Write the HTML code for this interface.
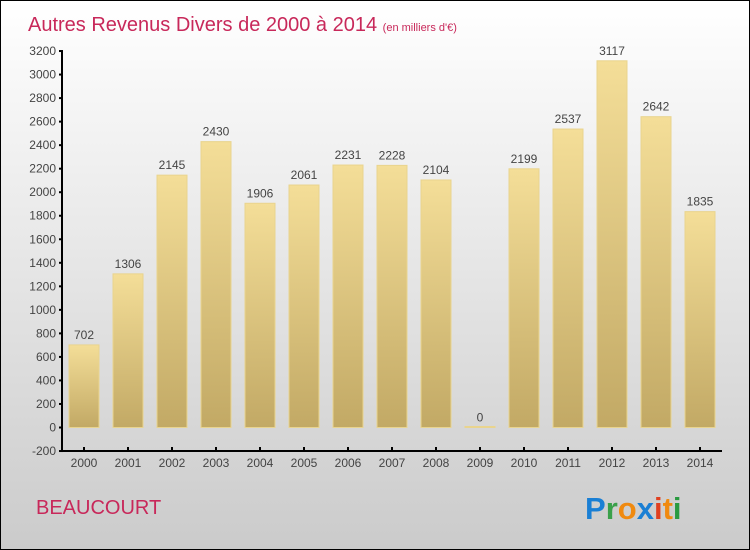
<!DOCTYPE html>
<html><head><meta charset="utf-8"><style>
body{margin:0}
#c{position:relative;width:748px;height:548px;border:1px solid #000;background:linear-gradient(#fff,#cbcbcb);font-family:"Liberation Sans",sans-serif;overflow:hidden}
</style></head><body>
<div id="c">
<svg width="748" height="548">
<defs><linearGradient id="g" x1="0" y1="0" x2="0" y2="1"><stop offset="0" stop-color="#f4de98"/><stop offset="1" stop-color="#c2a965"/></linearGradient></defs>
<text x="27" y="30" font-size="20" fill="#c8285a">Autres Revenus Divers de 2000 à 2014 <tspan font-size="11">(en milliers d'€)</tspan></text>
<g id="bars"></g>
<g id="axes" stroke="#000" stroke-width="2"></g>
<text x="35" y="513" font-size="20" fill="#c8285a">BEAUCOURT</text>
<text x="584" y="518" font-size="31" font-weight="bold"><tspan fill="#1a7fd4">P</tspan><tspan fill="#3aa04a">r</tspan><tspan fill="#f08a10">o</tspan><tspan fill="#1a7fd4">x</tspan><tspan fill="#e04020">i</tspan><tspan fill="#f08a10">t</tspan><tspan fill="#2a9a40">i</tspan></text>
</svg></div>
<script>
const years=["2000","2001","2002","2003","2004","2005","2006","2007","2008","2009","2010","2011","2012","2013","2014"];
const values=[702,1306,2145,2430,1906,2061,2231,2228,2104,0,2199,2537,3117,2642,1835];
const yTicks=[-200,0,200,400,600,800,1000,1200,1400,1600,1800,2000,2200,2400,2600,2800,3000,3200];
const NS="http://www.w3.org/2000/svg";
const y=v=>426.5-v*400/3400, x=i=>61+44*i+22;
const bars=document.getElementById('bars'),axes=document.getElementById('axes');
function mk(t,a,p){const e=document.createElementNS(NS,t);for(const k in a)e.setAttribute(k,a[k]);p.appendChild(e);return e;}
values.forEach((v,i)=>{
 const r=mk('rect',{x:x(i)-15,y:Math.min(y(v),y(0)-1),width:30,height:Math.max(Math.abs(y(0)-y(v)),1),fill:'url(#g)',stroke:'#e9d48e','stroke-width':1},bars);
 
 
 const t=mk('text',{x:x(i),y:y(v)-6,'text-anchor':'middle','font-size':12,fill:'#444'},bars);t.textContent=v;
 
 
 const l=mk('text',{x:x(i),y:466,'text-anchor':'middle','font-size':12,fill:'#444'},bars);l.textContent=years[i];
 
 
 mk('line',{x1:x(i),x2:x(i),y1:446,y2:450},axes);
});
yTicks.forEach(v=>{
 const t=mk('text',{x:55,y:y(v)+4,'text-anchor':'end','font-size':12,fill:'#444'},bars);t.textContent=v;
 
 
 mk('line',{x1:58,x2:62,y1:y(v),y2:y(v)},axes);
});
const ya=mk('line',{x1:61,x2:61,y1:y(3200),y2:451},axes);


const xa=mk('line',{x1:60,x2:721,y1:450,y2:450},axes);


</script>
</body></html>
